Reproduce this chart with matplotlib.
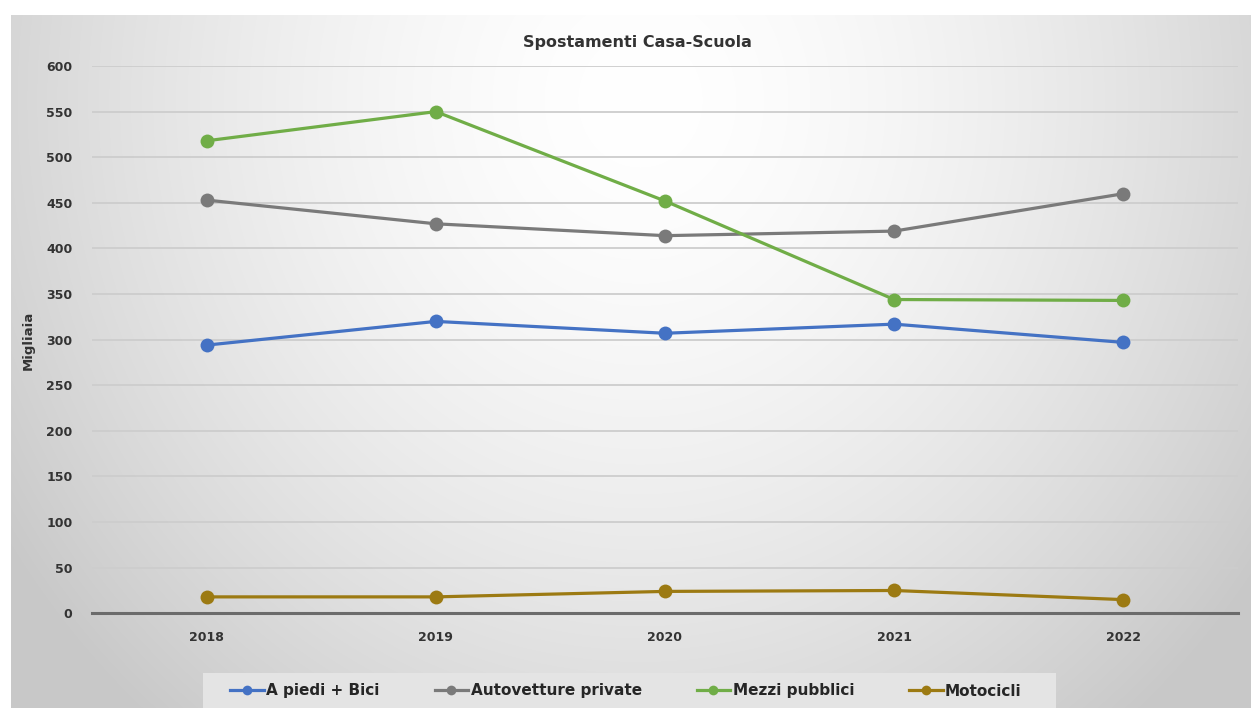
import numpy as np
import matplotlib
matplotlib.use("Agg")
import matplotlib.pyplot as plt
from matplotlib.lines import Line2D
from matplotlib.patches import Rectangle

# --- data (thousands of trips) ---
years = ["2018", "2019", "2020", "2021", "2022"]
a_piedi_bici = [294, 320, 307, 317, 297]
autovetture_private = [453, 427, 414, 419, 460]
mezzi_pubblici = [518, 550, 452, 344, 343]
motocicli = [18, 18, 24, 25, 15]

series_names = ["A piedi + Bici", "Autovetture private", "Mezzi pubblici", "Motocicli"]
series_values = [a_piedi_bici, autovetture_private, mezzi_pubblici, motocicli]
series_colors = ["#4472C4", "#7A7A7A", "#70AD47", "#9C7A12"]

y_ticks = [0, 50, 100, 150, 200, 250, 300, 350, 400, 450, 500, 550, 600]

W, H = 1251, 708
fig = plt.figure(figsize=(W / 100, H / 100), dpi=100)
fig.patch.set_facecolor("white")

# radial grey background of the chart area
bg = fig.add_axes([0, 0, 1, 1], zorder=-10)
bg.set_xlim(0, W)
bg.set_ylim(H, 0)
bg.axis("off")
x0, y0 = 11, 15
xx, yy = np.meshgrid(np.arange(x0, W), np.arange(y0, H))
r = np.sqrt(((xx - 640) / 760.0) ** 2 + ((yy - 100) / 820.0) ** 2)
r = np.clip(r, 0, 1) ** 1.6
shade = (255 - 55 * r) / 255.0
img = np.dstack([shade, shade, shade])
bg.imshow(img, extent=(x0, W, H, y0), aspect="auto", interpolation="bilinear")

# legend box
bg.add_patch(Rectangle((203, 673), 853, 40, facecolor="#e4e4e4", edgecolor="none", zorder=2))

# plot area
left, right = 92, 1238
top_px, zero_px = 66, 613.3
ax = fig.add_axes([left / W, (H - zero_px) / H, (right - left) / W, (zero_px - top_px) / H])
ax.patch.set_alpha(0)

x = np.arange(len(years))
for name, vals, col in zip(series_names, series_values, series_colors):
    ax.plot(x, vals, color=col, lw=2.3, marker="o", markersize=10,
            markeredgewidth=0, label=name, zorder=3, solid_capstyle="round")

ax.set_xlim(-0.5, len(years) - 0.5)
ax.set_ylim(0, 600)
ax.set_yticks(y_ticks)
ax.set_xticks(x)
ax.set_xticklabels(years)

for s in ["top", "right", "left"]:
    ax.spines[s].set_visible(False)
ax.spines["bottom"].set_color("#6b6b6b")
ax.spines["bottom"].set_linewidth(2.2)
ax.spines["bottom"].set_zorder(2)

ax.yaxis.grid(True, color="#cdcdcd", lw=1.3)
ax.set_axisbelow(True)
ax.tick_params(axis="both", length=0, labelsize=9, labelcolor="#333333")
ax.tick_params(axis="x", pad=13)
ax.tick_params(axis="y", pad=14)
for lab in ax.get_xticklabels() + ax.get_yticklabels():
    lab.set_fontweight("bold")

fig.text(637 / W, 1 - 42 / H, "Spostamenti Casa-Scuola", ha="center", va="center",
         fontsize=11.5, fontweight="bold", color="#333333")
fig.text(28 / W, 1 - 340 / H, "Migliaia", ha="center", va="center", rotation=90,
         fontsize=9.5, fontweight="bold", color="#333333")

handles = [Line2D([0], [0], color=c, lw=2.3, marker="o", markersize=7, markeredgewidth=0)
           for c in series_colors]
leg = fig.legend(handles, series_names, loc="center", ncol=4,
                 bbox_to_anchor=(626 / W, 1 - 691 / H), frameon=False,
                 handlelength=2.2, handletextpad=0.15,
                 columnspacing=3.6, borderpad=0.3,
                 prop={"weight": "bold", "size": 11})
for t in leg.get_texts():
    t.set_color("#262626")

fig.savefig("out.png", dpi=100)
